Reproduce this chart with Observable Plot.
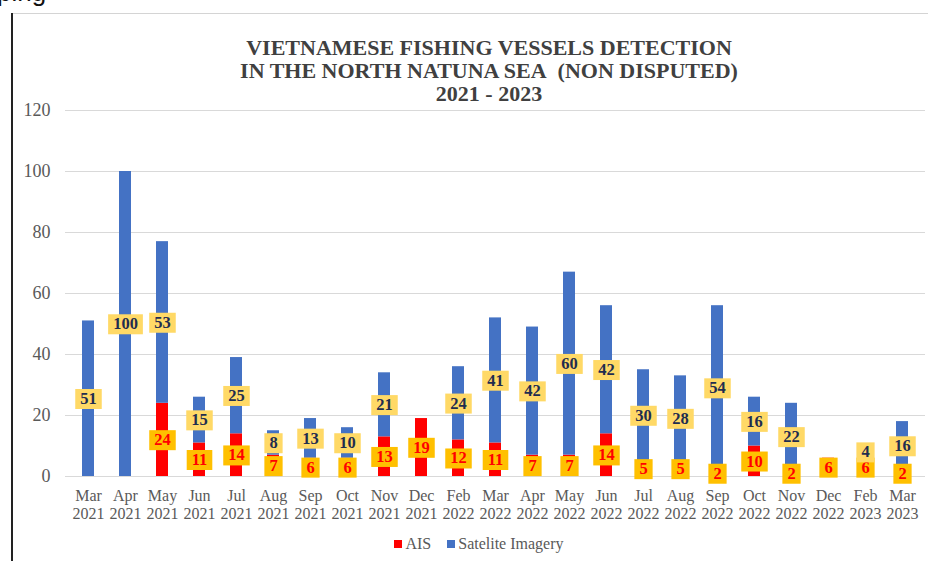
<!DOCTYPE html>
<html>
<head>
<meta charset="utf-8">
<script src="https://cdn.jsdelivr.net/npm/d3@7"></script>
<script src="https://cdn.jsdelivr.net/npm/@observablehq/plot@0.6"></script>
<style>
  html, body { margin: 0; padding: 0; background: #fff; }
  #page { position: relative; width: 928px; height: 561px; overflow: hidden; background: #fff; }
  #frag { position: absolute; left: -3px; top: -23px; font: 26px/30px "Liberation Sans", Arial, sans-serif; color: #111; }
  #vline { position: absolute; left: 11px; top: 13px; width: 1.5px; height: 560px; background: #222; }
  #hline { position: absolute; left: 11px; top: 13px; width: 917px; height: 1px; background: #d4d4d4; }
  #title { position: absolute; left: 139px; width: 700px; top: 36px; text-align: center;
           font: bold 22px "Liberation Serif", "Times New Roman", serif; line-height: 23px; color: #404040; }
  #chart { position: absolute; left: 0; top: 100px; }
  #legend { position: absolute; top: 535px; left: 0; width: 928px; display: flex; justify-content: center;
            font: 16px "Liberation Serif", "Times New Roman", serif; color: #595959; padding-left: 30px; box-sizing: border-box; }
  .item { display: flex; align-items: center; margin: 0 8px; }
  .sw { width: 8px; height: 8px; margin-right: 3px; }
</style>
</head>
<body>
<div id="page">
  <div id="frag">ping</div>
  <div id="hline"></div>
  <div id="vline"></div>
  <div id="title">VIETNAMESE FISHING VESSELS DETECTION<br>IN THE NORTH NATUNA SEA&nbsp; (NON DISPUTED)<br>2021 - 2023</div>
  <div id="chart"></div>
  <div id="legend"></div>
</div>
<script>
// ---- data ----
const months = ["Mar 2021","Apr 2021","May 2021","Jun 2021","Jul 2021","Aug 2021","Sep 2021","Oct 2021","Nov 2021","Dec 2021",
                "Feb 2022","Mar 2022","Apr 2022","May 2022","Jun 2022","Jul 2022","Aug 2022","Sep 2022","Oct 2022","Nov 2022",
                "Dec 2022","Feb 2023","Mar 2023"];
const aisValues = [0,0,24,11,14,7,6,6,13,19,12,11,7,7,14,5,5,2,10,2,6,6,2];
const satValues = [51,100,53,15,25,8,13,10,21,0,24,41,42,60,42,30,28,54,16,22,0,4,16];
const seriesNames = ["AIS","Satelite Imagery"];
const seriesColors = ["#FF0000","#4472C4"];
const yTicks = [0,20,40,60,80,100,120];

// long-format table (AIS first so it stacks at the bottom)
const rows = [];
months.forEach((m, i) => {
  rows.push({month: m, series: seriesNames[0], value: aisValues[i]});
  rows.push({month: m, series: seriesNames[1], value: satValues[i]});
});
const labelRows = rows.filter(d => d.value > 0);

const serif = "Liberation Serif, Times New Roman, serif";
const isAis = d => d.series === seriesNames[0];

const chart = Plot.plot({
  width: 928,
  height: 432,
  marginTop: 10,
  marginBottom: 56,
  marginLeft: 65,
  marginRight: 3,
  style: {fontFamily: serif, background: "transparent", overflow: "visible"},
  x: {domain: months, paddingInner: 0.68, paddingOuter: 0.34, label: null},
  y: {domain: [0, 120], ticks: yTicks, label: null},
  color: {domain: seriesNames, range: seriesColors},
  marks: [
    Plot.gridY(yTicks, {stroke: "#d9d9d9", strokeOpacity: 1, strokeWidth: 1}),
    Plot.axisY(yTicks, {tickSize: 0, tickPadding: 15, fontSize: 18, fill: "#595959", label: null}),
    Plot.axisX({tickSize: 0, tickPadding: 12, fontSize: 16, fill: "#595959", lineHeight: 1.1,
                tickFormat: d => d.replace(" ", "\n"), label: null}),
    Plot.barY(rows, {x: "month", y: "value", fill: "series"}),
    Plot.text(labelRows, Plot.stackY({
      x: "month", y: "value",
      text: d => String(d.value),
      fill: d => isAis(d) ? "#FF0000" : "#1F2D4F",
      fontSize: 16.5, fontWeight: "bold", fontFamily: serif
    }))
  ]
});
document.getElementById("chart").appendChild(chart);

// yellow boxes behind each value label, sized from the rendered text
(function () {
  const groups = Array.from(chart.querySelectorAll("g[aria-label='text']"));
  const valueStrings = new Set(labelRows.map(d => String(d.value)));
  const ns = "http://www.w3.org/2000/svg";
  groups.forEach(g => {
    Array.from(g.querySelectorAll("text")).forEach(t => {
      if (!valueStrings.has(t.textContent.trim())) return;
      const bb = t.getBBox();
      const fillAttr = (t.getAttribute("fill") || "").toLowerCase();
      const red = fillAttr === "#ff0000" || fillAttr === "red" || getComputedStyle(t).fill === "rgb(255, 0, 0)";
      const cy = bb.y + bb.height / 2 + 0.5;
      const r = document.createElementNS(ns, "rect");
      r.setAttribute("x", bb.x - 5);
      r.setAttribute("y", cy - 10);
      r.setAttribute("width", bb.width + 10);
      r.setAttribute("height", 20);
      r.setAttribute("fill", red ? "#FFC000" : "#FFD966");
      if (t.getAttribute("transform")) r.setAttribute("transform", t.getAttribute("transform"));
      t.parentNode.insertBefore(r, t);
    });
  });
})();

// legend
const legend = document.getElementById("legend");
seriesNames.forEach((name, i) => {
  const item = document.createElement("div");
  item.className = "item";
  const sw = document.createElement("div");
  sw.className = "sw";
  sw.style.background = seriesColors[i];
  const lab = document.createElement("span");
  lab.textContent = name;
  item.appendChild(sw); item.appendChild(lab);
  legend.appendChild(item);
});
</script>
</body>
</html>
